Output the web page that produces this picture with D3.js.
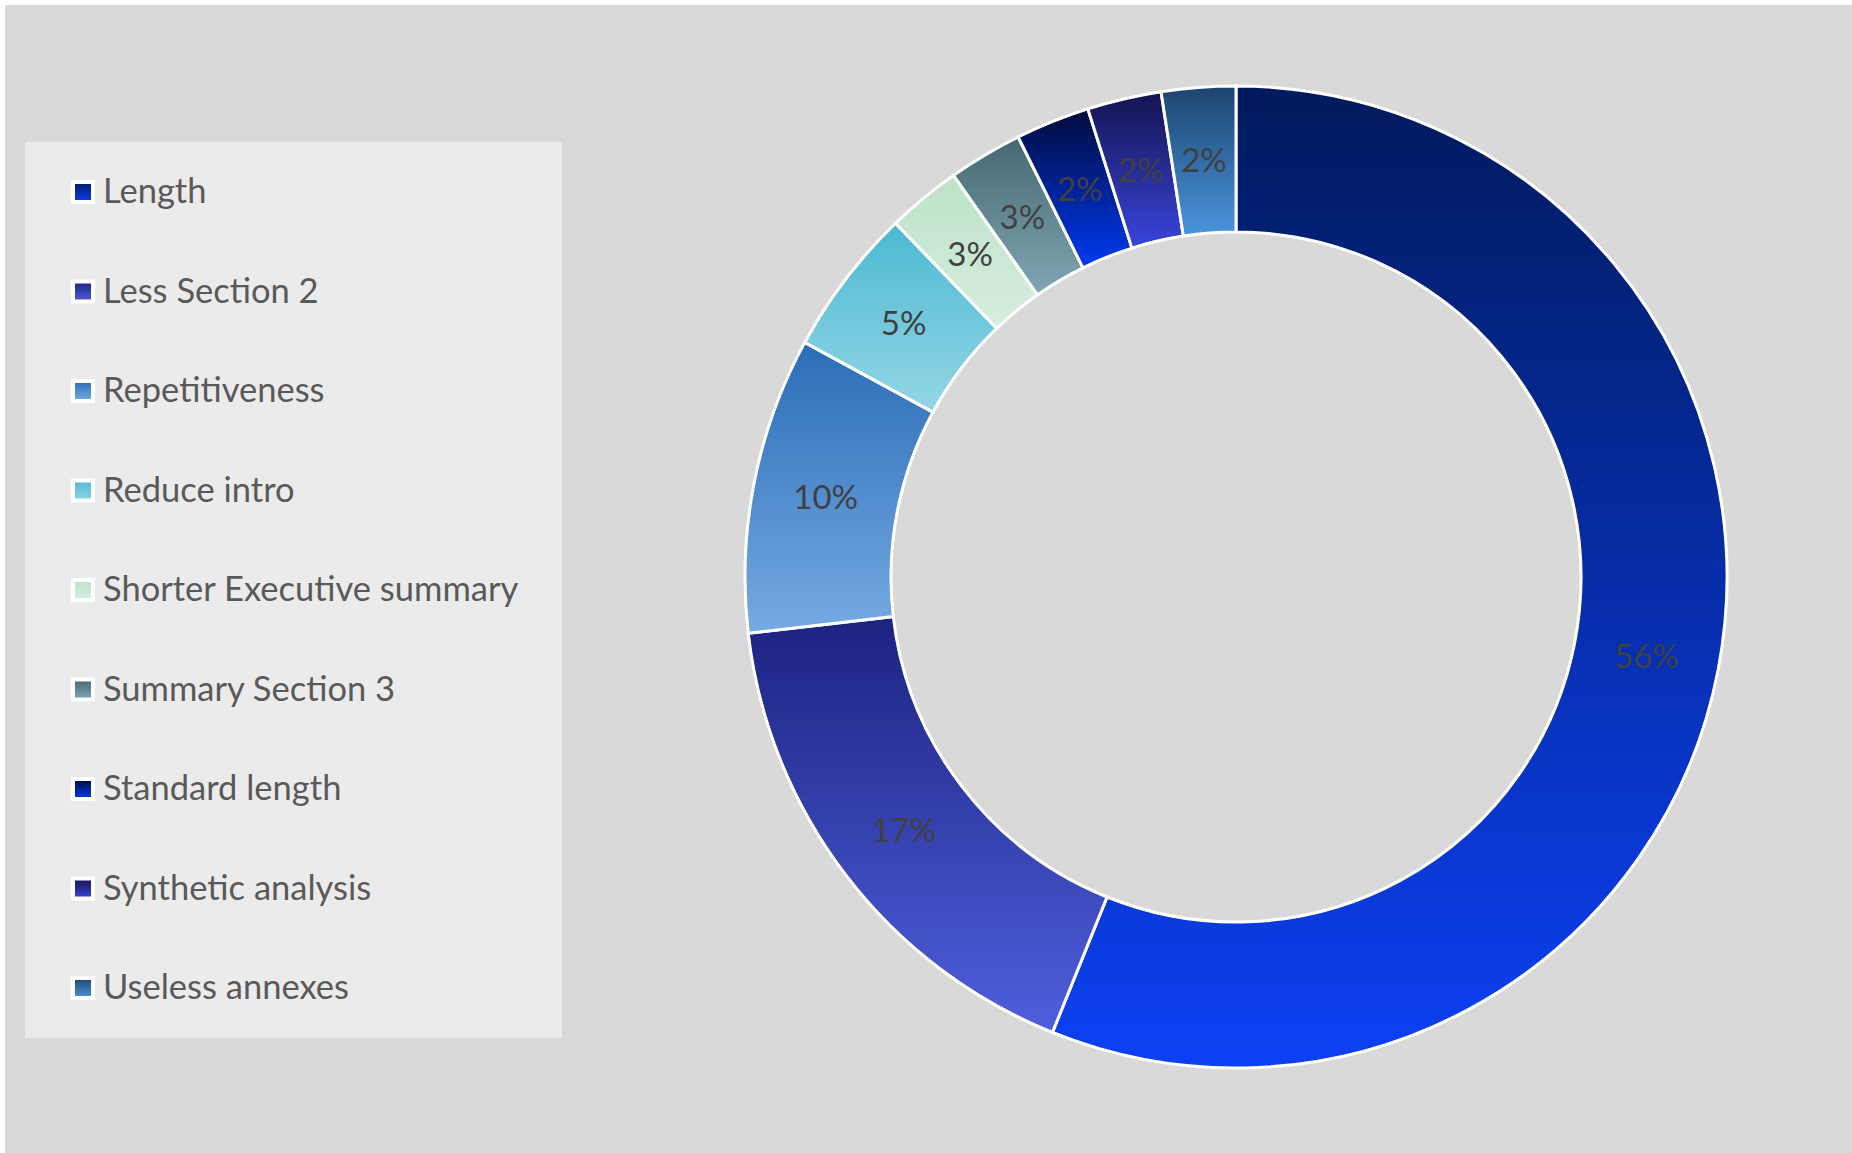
<!DOCTYPE html>
<html>
<head>
<meta charset="utf-8">
<script src="https://cdn.jsdelivr.net/npm/d3@7"></script>
<style>
  body { margin: 0; background: #ffffff; }
  svg { display: block; }
  .legend-label { font-family: Lato, "Open Sans", sans-serif; fill: #595959; }
  .slice-label { font-family: Lato, "Open Sans", sans-serif; fill: #404040; }
</style>
</head>
<body>
<div id="chart"></div>
<script>

// categories, in the order they run clockwise from 12 o'clock
var categories = ["Length", "Less Section 2", "Repetitiveness", "Reduce intro",
  "Shorter Executive summary", "Summary Section 3", "Standard length",
  "Synthetic analysis", "Useless annexes"];

// number of answers per category (slices)
var counts = [23, 7, 4, 2, 1, 1, 1, 1, 1];

// percent labels as printed on the chart
var percentLabels = ["56%", "17%", "10%", "5%", "3%", "3%", "2%", "2%", "2%"];

// gradient stops, top -> bottom of each slice
var topColors = ["#001a5c", "#1b2380", "#2a6db6", "#4cb9d2", "#bce2c8",
  "#456870", "#000b3a", "#14134f", "#1c456e"];
var bottomColors = ["#0c40f4", "#4f5fdc", "#76aae3", "#93d6e5", "#d7eddf",
  "#80a7b4", "#003af2", "#3a45dc", "#4a95dd"];

var width = 1852, height = 1153;

var svg = d3.select("#chart").append("svg")
  .attr("width", width)
  .attr("height", height);

// plot area background
svg.append("rect")
  .attr("x", 5).attr("y", 5)
  .attr("width", width - 5).attr("height", height - 5)
  .attr("fill", "#d9d9d9");

var data = categories.map(function(c, i){
  return { name: c, value: counts[i], label: percentLabels[i], i: i };
});

// gradients, one per category
var defs = svg.append("defs");
data.forEach(function(d){
  var g = defs.append("linearGradient")
    .attr("id", "grad" + d.i)
    .attr("x1", 0).attr("y1", 0).attr("x2", 0).attr("y2", 1);
  g.append("stop").attr("offset", "0%").attr("stop-color", topColors[d.i]);
  g.append("stop").attr("offset", "100%").attr("stop-color", bottomColors[d.i]);
});

// Legend
var legend = { x: 25, y: 142, width: 537, height: 896, rowStart: 192, rowStep: 99.5 };

svg.append("rect")
  .attr("x", legend.x).attr("y", legend.y)
  .attr("width", legend.width).attr("height", legend.height)
  .attr("fill", "#ebebeb");

var items = svg.selectAll(".legend-item").data(data).enter().append("g")
  .attr("class", "legend-item")
  .attr("transform", function(d){
    return "translate(0," + (legend.rowStart + d.i * legend.rowStep) + ")";
  });

items.append("rect")
  .attr("x", 73).attr("y", -10)
  .attr("width", 20).attr("height", 20)
  .attr("fill", function(d){ return "url(#grad" + d.i + ")"; })
  .attr("stroke", "#ffffff")
  .attr("stroke-width", 4);

items.append("text")
  .attr("class", "legend-label")
  .attr("x", 103)
  .attr("y", 11)
  .style("font-size", "34.5px")
  .text(function(d){ return d.name; });

// Donut
var cx = 1236, cy = 577, outerR = 491, innerR = 345;

var pie = d3.pie()
  .sort(null)
  .value(function(d){ return d.value; });

var arc = d3.arc()
  .innerRadius(innerR)
  .outerRadius(outerR);

var labelArc = d3.arc()
  .innerRadius((innerR + outerR) / 2)
  .outerRadius((innerR + outerR) / 2);

var donut = svg.append("g")
  .attr("transform", "translate(" + cx + "," + cy + ")");

var slices = donut.selectAll(".slice").data(pie(data)).enter();

slices.append("path")
  .attr("class", "slice")
  .attr("d", arc)
  .attr("fill", function(d){ return "url(#grad" + d.data.i + ")"; })
  .attr("stroke", "#ffffff")
  .attr("stroke-width", 3)
  .attr("stroke-linejoin", "miter");

slices.append("text")
  .attr("class", "slice-label")
  .attr("transform", function(d){ return "translate(" + labelArc.centroid(d) + ")"; })
  .attr("text-anchor", "middle")
  .attr("dy", "0.35em")
  .style("font-size", "33px")
  .text(function(d){ return d.data.label; });

</script>
</body>
</html>
